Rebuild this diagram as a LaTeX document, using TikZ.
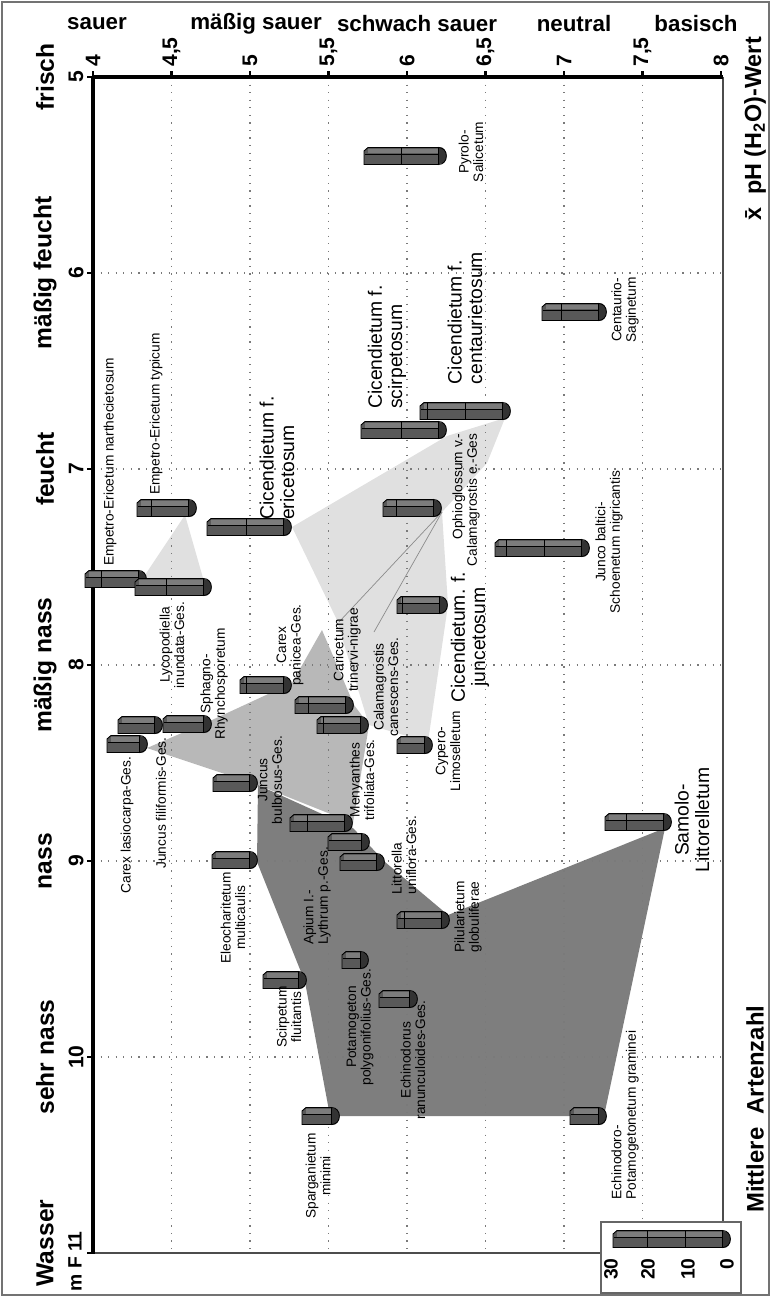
\documentclass[tikz,border=0pt]{standalone}
\usepackage{fontspec}
\setmainfont{Liberation Sans}
\usetikzlibrary{calc}
\definecolor{ZoneDark}{HTML}{7E7E7E}
\definecolor{ZoneMid}{HTML}{B8B8B8}
\definecolor{ZoneLight}{HTML}{E0E0E0}
\definecolor{BarFront}{HTML}{595959}
\definecolor{BarTop}{HTML}{7C7C7C}
\definecolor{GridGray}{HTML}{7A7A7A}
\tikzset{
  axisline/.style={line width=1.8pt},
  gridline/.style={draw=GridGray, line width=0.7pt, dash pattern=on 0.7pt off 3.6pt},
  frameline/.style={draw=black!70, line width=0.6pt},
  species/.style={rotate=90, font=\fontsize{7.8}{8.3}\selectfont, align=center, inner sep=0pt},
  bigspecies/.style={rotate=90, font=\fontsize{11}{11.6}\selectfont, align=left, inner sep=0pt},
  scalelabel/.style={font=\bfseries\fontsize{12.7}{14}\selectfont, inner sep=0pt},
  sidelabel/.style={rotate=90, font=\bfseries\fontsize{14}{15}\selectfont, inner sep=0pt},
  ticklabel/.style={rotate=90, font=\bfseries\fontsize{12}{13}\selectfont, inner sep=0pt},
  keylabel/.style={rotate=90, font=\bfseries\fontsize{11}{12}\selectfont, inner sep=0pt, anchor=east}
}
% one column of the chart, lying on its side: left end, right end, centre line
\newcommand{\artbar}[3]{%
  \filldraw[fill=BarFront, draw=black, line width=0.5pt]
    (#1,{#3-5}) -- ({#1+4},{#3-8.5}) -- ({#2-8.5},{#3-8.5})
    -- ({#2-8.5},{#3+8.5}) -- (#1,{#3+8.5}) -- cycle;
  \fill[BarTop] ({#1+4},{#3-7}) rectangle ({#2-9.5},{#3-2.5});
  \draw[line width=0.5pt] ({#1+1},{#3-1.5}) -- ({#2-8.5},{#3-1.5});
  \foreach \k in {1,2}{%
    \pgfmathtruncatemacro{\fits}{(#2-8.5-37.5*\k > #1+4) ? 1 : 0}%
    \ifnum\fits=1
      \draw[line width=0.5pt] ({#2-8.5-37.5*\k},{#3-8.5}) -- ({#2-8.5-37.5*\k},{#3+8.5});
    \fi}
  \filldraw[fill=black!80, draw=black, line width=0.5pt]
    ({#2-8.5},{#3-8.5}) .. controls ({#2+2},{#3-8.5}) and ({#2+2},{#3+8.5}) .. ({#2-8.5},{#3+8.5}) -- cycle;
}

\begin{document}
\begin{tikzpicture}[x=0.02cm, y=-0.02cm]
  \useasboundingbox (0,0) rectangle (771,1297);
  \draw[draw=black!55, line width=0.6pt] (2,2) rectangle (769,1295);

  % zones
  \fill[ZoneLight] (185,515) -- (143,578) -- (205,585) -- cycle;
  \fill[ZoneLight] (292,527) -- (447,436) -- (505,418) -- (487,463) -- (442,512)
    -- (448,605) -- (428,742) -- (369,725) -- (336,618) -- cycle;
  \fill[ZoneMid] (147,748) -- (212,720) -- (292,683) -- (322,630) -- (354,705)
    -- (369,725) -- (353,823) -- (258,785) -- cycle;
  \fill[ZoneDark] (258,785) -- (353,828) -- (369,845) -- (385,862) -- (448,915)
    -- (665,828) -- (604,1116) -- (330,1116) -- (305,982) -- (257,862) -- cycle;
  \draw[black!45, line width=0.4pt] (442,512) -- (339,622);
  \draw[black!45, line width=0.4pt] (442,512) -- (374,632);

  % grid
  \foreach \i in {1,...,7}
    \draw[gridline] ({93+78.5*\i},77) -- ({93+78.5*\i},1253);
  \foreach \i in {1,...,5}
    \draw[gridline] (93,{77+196*\i}) -- (723,{77+196*\i});

  % frame and axes
  \draw[frameline] (723,77) -- (723,1222);
  \draw[frameline] (93,1253) -- (601,1253);
  \draw[axisline] (93,77) -- (723,77);
  \draw[axisline] (93,77) -- (93,1254);
  \foreach \i in {0,...,8}
    \draw[line width=1.2pt] ({93+78.5*\i},77) -- ({93+78.5*\i},71);
  \foreach \i in {0,...,6}
    \draw[line width=1.2pt] (93,{77+196*\i}) -- (87,{77+196*\i});

  % pH scale
  \foreach \t [count=\i] in {4,{4,5},5,{5,5},6,{6,5},7,{7,5},8}
    \node[ticklabel, anchor=west] (ph\i) at ({93+78.5*(\i-1)},67) {\t};
  \node[scalelabel] (sauer) at (97,24) {sauer};
  \node[scalelabel] (msauer) at (256,24) {mäßig sauer};
  \node[scalelabel] (ssauer) at (417,24) {schwach sauer};
  \node[scalelabel] (neutral) at (574,24) {neutral};
  \node[scalelabel] (basisch) at (696,24) {basisch};
  \node[sidelabel, anchor=west, font=\bfseries\fontsize{13.3}{14}\selectfont] (phwert) at (755,221)
    {x̄\ \ pH (H\textsubscript{2}O)-Wert};

  % F scale
  \foreach \t/\w [count=\i] in {5/frisch,6/mäßig feucht,7/feucht,8/mäßig nass,9/nass,10/sehr nass}{
    \node[ticklabel] (f\i) at (76,{77+196*(\i-1)}) {\t};
    \node[sidelabel] (fw\i) at (45,{77+196*(\i-1)}) {\w};
  }
  \node[ticklabel, anchor=east, font=\bfseries\fontsize{11}{12}\selectfont] (f7) at (75,1231) {m F 11};
  \node[sidelabel] (wasser) at (45,1243) {Wasser};
  \node[sidelabel, anchor=west, font=\bfseries\fontsize{13.6}{15}\selectfont] (artenzahl) at (755,1213)
    {Mittlere\ \ Artenzahl};

  % columns
  \artbar{364}{447}{156}
  \artbar{542}{607}{312}
  \artbar{420}{511}{411}
  \artbar{361}{447}{430}
  \artbar{137}{197}{508}
  \artbar{383}{442}{508}
  \artbar{207}{292}{527}
  \artbar{495}{590}{548}
  \artbar{85}{147}{579}
  \artbar{135}{212}{587}
  \artbar{397}{448}{605}
  \artbar{240}{292}{685}
  \artbar{295}{354}{705}
  \artbar{118}{163}{725}
  \artbar{163}{212}{724}
  \artbar{317}{369}{725}
  \artbar{107}{148}{744}
  \artbar{397}{433}{745}
  \artbar{213}{258}{783}
  \artbar{605}{672}{822}
  \artbar{290}{353}{823}
  \artbar{328}{370}{842}
  \artbar{212}{258}{860}
  \artbar{340}{385}{862}
  \artbar{397}{450}{920}
  \artbar{342}{369}{960}
  \artbar{263}{307}{980}
  \artbar{379}{418}{999}
  \artbar{302}{340}{1116}
  \artbar{570}{607}{1116}

  % names of the communities
  \node[species] (pyrolo) at (471,152) {Pyrolo-\\Salicetum};
  \node[species] (centaurio) at (625,310) {Centaurio-\\Saginetum};
  \node[species] (narthec) at (110,462) {Empetro-Ericetum narthecietosum};
  \node[species] (typicum) at (156,414) {Empetro-Ericetum typicum};
  \node[species] (lycopod) at (172,645) {Lycopodiella\\inundata-Ges.};
  \node[species] (panicea) at (290,645) {Carex\\panicea-Ges.};
  \node[species, align=right] (ophio) at (466,500) {Ophioglossum v.-\\Calamagrostis e.-Ges};
  \node[species] (junco) at (609,542) {Junco baltici-\\Schoenetum nigricantis};
  \node[species] (lasio) at (127,825) {Carex lasiocarpa-Ges.};
  \node[species] (filif) at (161,803) {Juncus filiformis-Ges.};
  \node[species] (sphagno) at (214,684) {Sphagno-\\Rhynchosporetum};
  \node[species] (bulbosus) at (270,780) {Juncus\\bulbosus-Ges.};
  \node[species] (eleo) at (233,918) {Eleocharitetum\\multicaulis};
  \node[species] (scirp) at (289,1017) {Scirpetum\\fluitantis};
  \node[species] (menyan) at (362,780) {Menyanthes\\trifoliata-Ges.};
  \node[species, align=left] (apium) at (317,896) {Apium I.-\\Lythrum p.-Ges.};
  \node[species] (caric) at (347,650) {Caricetum\\trinervi-nigrae};
  \node[species] (calam) at (386,687) {Calamagrostis\\canescens-Ges.};
  \node[species, align=left] (littor) at (404,855) {Littorella\\uniflora-Ges.};
  \node[species] (cypero) at (448,751) {Cypero-\\Limoselletum};
  \node[species] (pilul) at (468,917) {Pilularietum\\globuliferae};
  \node[species] (potam) at (360,1027) {Potamogeton\\polygonifolius-Ges.};
  \node[species] (echinod) at (413,1060) {Echinodorus\\ranunculoides-Ges.};
  \node[species] (sparg) at (318,1176) {Sparganietum\\minimi};
  \node[species, align=left] (echpot) at (625,1115) {Echinodoro-\\Potamogetonetum graminei};
  \node[bigspecies] (cicerica) at (277,458) {Cicendietum f.\\ericetosum};
  \node[bigspecies] (ciscirp) at (387,347) {Cicendietum f.\\scirpetosum};
  \node[bigspecies] (cicent) at (465,318) {Cicendietum f.\\centaurietosum};
  \node[bigspecies, align=center] (cijunc) at (470,637) {Cicendietum. f.\\juncetosum};
  \node[bigspecies, align=center] (samolo) at (692,820) {Samolo-\\Littorelletum};

  % key
  \filldraw[fill=white, draw=black!60, line width=0.6pt] (601,1222) rectangle (741,1293);
  \artbar{613}{731}{1239}
  \foreach \t/\x in {30/611,20/648,10/688,0/727}
    \node[keylabel] (key\t) at (\x,1258) {\t};
\end{tikzpicture}
\end{document}
